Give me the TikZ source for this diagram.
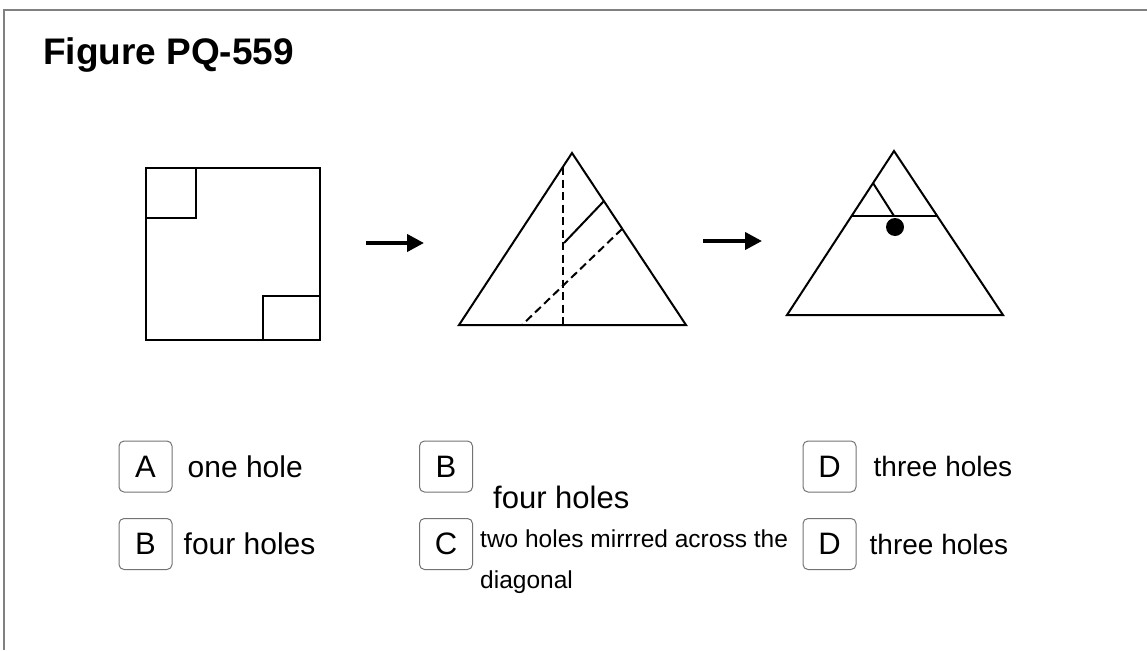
\documentclass[tikz,border=0pt]{standalone}
\usepackage{fontspec}
\setmainfont{Liberation Sans}
\usetikzlibrary{arrows.meta,positioning}

\begin{document}
\begin{tikzpicture}[x=1pt,y=-1pt,
  fold/.style={line width=2pt,line join=miter},
  crease/.style={fold,dash pattern=on 8pt off 4.5pt},
  step arrow/.style={line width=4pt,-{Triangle[length=17pt,width=17pt]}},
  optbox/.style={draw=black!55,line width=1pt,rounded corners=5pt,
    minimum width=53pt,minimum height=51pt,inner sep=0pt,
    font=\fontsize{31}{36}\selectfont},
  opttext/.style={inner sep=0pt,font=\fontsize{30}{36}\selectfont}]
  \useasboundingbox (0,0) rectangle (1147,650);
  % frame, top and left edge only
  \draw[black!50,line width=2pt] (4,650) -- (4,10) -- (1147,10);
  \node[anchor=base west,inner sep=0pt,font=\bfseries\fontsize{37}{40}\selectfont]
    (title) at (43,65) {Figure PQ-559};

  % the paper with two corner squares
  \draw[fold] (146,168) rectangle (320,340);
  \draw[fold] (146,218) -| (196,168);
  \draw[fold] (263,340) |- (320,296);

  % arrows between the steps
  \coordinate (arrA1) at (366,243);
  \coordinate (arrA2) at (424,243);
  \coordinate (arrB1) at (703,241);
  \coordinate (arrB2) at (762,241);
  \draw[step arrow] (arrA1) -- (arrA2);
  \draw[step arrow] (arrB1) -- (arrB2);

  % first fold
  \coordinate (topA) at (572,153);
  \coordinate (leftA) at (459,325);
  \coordinate (rightA) at (686,325);
  \draw[fold] (topA) -- (leftA) -- (rightA) -- cycle;
  \draw[crease] (563,167) -- (563,325);
  \draw[crease] (622,229) -- (522,325);
  \draw[fold] (604,201) -- (564,243);

  % second fold, with the punched hole
  \coordinate (topB) at (894,151);
  \coordinate (leftB) at (787,315);
  \coordinate (rightB) at (1003,315);
  \draw[fold] (topB) -- (leftB) -- (rightB) -- cycle;
  \draw[fold] (852,216) -- (937,216);
  \draw[fold] (873,183) -- (894,216);
  \fill (895,227) circle (9pt);

  % answer options
  \node[optbox] (boxA) at (145.5,466.5) {A};
  \node[opttext,right=15pt of boxA] (txtA) {one hole};
  \node[optbox] (boxB) at (145.5,544) {B};
  \node[opttext,right=11pt of boxB] (txtB) {four holes};

  \node[optbox] (boxB2) at (446,466.5) {B};
  \node[opttext,anchor=base west,font=\fontsize{31}{36}\selectfont]
    (txtB2) at (493,508) {four holes};
  \node[optbox] (boxC) at (446,544) {C};
  \node[opttext,anchor=north west,align=left,font=\fontsize{24.5}{41}\selectfont]
    (txtC) at (480,530) {two holes mirrred across the\\diagonal};

  \node[optbox] (boxD) at (829.5,466.5) {D};
  \node[opttext,right=17pt of boxD,font=\fontsize{28}{34}\selectfont] (txtD) {three holes};
  \node[optbox] (boxD2) at (829.5,544) {D};
  \node[opttext,right=13pt of boxD2,font=\fontsize{28}{34}\selectfont] (txtD2) {three holes};
\end{tikzpicture}
\end{document}
